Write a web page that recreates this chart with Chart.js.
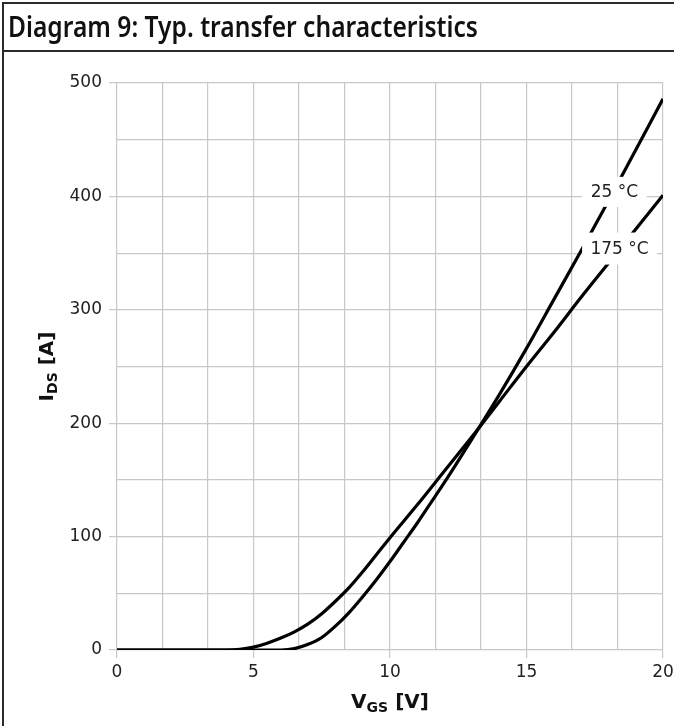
<!DOCTYPE html>
<html><head><meta charset="utf-8">
<script src="https://cdn.jsdelivr.net/npm/chart.js@4.4.1/dist/chart.umd.min.js"></script>
<style>
html,body{margin:0;padding:0;background:#fff;}
#wrap{position:relative;width:674px;height:726px;overflow:hidden;background:#fff;}
#c{position:absolute;left:0;top:0;}
#frame{position:absolute;left:2px;top:2px;width:720px;height:800px;border-left:2px solid #2b2b2b;border-top:2px solid #2b2b2b;pointer-events:none;}
#hdr{position:absolute;left:2px;top:2px;width:720px;height:48px;border-bottom:2px solid #2b2b2b;pointer-events:none;}
#title{position:absolute;left:8px;top:12px;font-family:"Noto Sans";font-weight:600;font-size:28px;line-height:28px;transform-origin:left top;white-space:nowrap;color:#111;}
</style>
</head><body>
<div id="wrap">
<canvas id="c" width="674" height="726"></canvas>
<div id="hdr"></div>
<div id="frame"></div>
<div id="title">Diagram 9: Typ. transfer characteristics</div>
</div>
<script>
// ---- data ----
const vgs25  = [0, 6, 6.5, 7, 7.5, 8, 8.5, 9, 9.5, 10, 10.5, 11, 11.5, 12, 13, 14, 15, 16, 17, 18, 19, 20];
const ids25  = [0, 0, 1.2, 5, 11, 21, 33, 47, 62, 78, 95, 112, 130, 148, 186, 225, 266, 309, 352, 396, 441, 486];
const vgs175 = [0, 4, 4.5, 5, 5.5, 6, 6.5, 7, 7.5, 8, 8.5, 9, 9.5, 10, 11, 12, 13, 14, 15, 16, 17, 18, 19, 20];
const ids175 = [0, 0, 0.5, 2.5, 6, 10.5, 16, 23, 32, 43, 55, 69, 84, 99, 128, 158, 188, 219, 250, 280, 311, 341, 371, 401];
const seriesNames = ['25 °C', '175 °C'];
const xTickLabels = ['0', '5', '10', '15', '20'];
const yTickLabels = ['0', '100', '200', '300', '400', '500'];
const xGridCount = 12;   // vertical grid divisions
const yGridCount = 10;   // horizontal grid divisions

// title width fit
const t = document.getElementById('title');
const tw = t.getBoundingClientRect().width;
t.style.transform = 'scaleX(' + (470 / tw) + ')';

const GRID = '#c8c8c8';
const TXT = '#222';
const FONT = '"DejaVu Sans"';

function toPts(xs, ys){ return xs.map((x,i)=>({x:x, y:ys[i]})); }

const xMax = Number(xTickLabels[xTickLabels.length-1]);
const yMax = Number(yTickLabels[yTickLabels.length-1]);
const isXMajor = v => xTickLabels.some(l => Math.abs(Number(l) - v) < 1e-6);
const isYMajor = v => yTickLabels.some(l => Math.abs(Number(l) - v) < 1e-6);

const labelPlugin = {
  id: 'curveLabels',
  afterDatasetsDraw(chart){
    const {ctx, scales:{x, y}} = chart;
    const items = [
      {text: seriesNames[0], vx: 18.22, vy: 404, w: 65, h: 30},
      {text: seriesNames[1], vx: 18.41, vy: 354, w: 75, h: 32}
    ];
    ctx.save();
    ctx.font = '17px ' + FONT;
    ctx.textAlign = 'center';
    ctx.textBaseline = 'middle';
    items.forEach(it => {
      const px = x.getPixelForValue(it.vx), py = y.getPixelForValue(it.vy);
      ctx.fillStyle = '#fff';
      ctx.fillRect(px - it.w/2, py - it.h/2, it.w, it.h);
      ctx.fillStyle = TXT;
      ctx.fillText(it.text, px, py + 1);
    });
    ctx.restore();
  }
};

function drawSub(ctx, parts, cx, cy){
  let total = 0;
  parts.forEach(p => { ctx.font = 'bold ' + p[1] + 'px ' + FONT; p.w = ctx.measureText(p[0]).width; total += p.w; });
  let xx = cx - total/2;
  parts.forEach(p => {
    ctx.font = 'bold ' + p[1] + 'px ' + FONT;
    ctx.fillText(p[0], xx, cy + p[2]);
    xx += p.w;
  });
}

const axisTitlePlugin = {
  id: 'axisTitles',
  afterDraw(chart){
    const {ctx, chartArea:a} = chart;
    ctx.save();
    ctx.fillStyle = '#111';
    ctx.textAlign = 'left';
    ctx.textBaseline = 'alphabetic';
    drawSub(ctx, [['V',20,0],['GS',14,4],[' [V]',20,0]], (a.left + a.right)/2, 708);
    ctx.translate(53, (a.top + a.bottom)/2);
    ctx.rotate(-Math.PI/2);
    drawSub(ctx, [['I',20,0],['DS',14,4],[' [A]',20,0]], 0, 0);
    ctx.restore();
  }
};

new Chart(document.getElementById('c'), {
  type: 'line',
  data: {
    datasets: [
      {label: seriesNames[0], data: toPts(vgs25, ids25), borderColor:'#000', borderWidth:3.2, pointRadius:0, cubicInterpolationMode:'monotone', fill:false},
      {label: seriesNames[1], data: toPts(vgs175, ids175), borderColor:'#000', borderWidth:3.2, pointRadius:0, cubicInterpolationMode:'monotone', fill:false}
    ]
  },
  options: {
    responsive: false,
    animation: false,
    events: [],
    layout: {padding: {top: 83, right: 11, left: 0, bottom: 0}},
    plugins: {legend:{display:false}, tooltip:{enabled:false}, title:{display:false}},
    scales: {
      x: {
        type: 'linear', min: 0, max: xMax,
        afterBuildTicks: s => { s.ticks = Array.from({length: xGridCount+1}, (_, i) => ({value: i * xMax / xGridCount})); },
        afterFit: s => { s.height = 76; s.paddingRight = 0; s.paddingLeft = 0; },
        grid: {color: GRID, lineWidth: 1.2, tickLength: 8, drawTicks: true,
               tickColor: c => (c.tick && isXMajor(c.tick.value)) ? GRID : 'rgba(0,0,0,0)'},
        border: {display: false},
        ticks: {autoSkip: false, maxRotation: 0, padding: 4, color: TXT, font: {family: 'DejaVu Sans', size: 17},
                callback: v => isXMajor(v) ? xTickLabels.find(l => Math.abs(Number(l)-v) < 1e-6) : ''}
      },
      y: {
        type: 'linear', min: 0, max: yMax,
        afterBuildTicks: s => { s.ticks = Array.from({length: yGridCount+1}, (_, i) => ({value: i * yMax / yGridCount})); },
        afterFit: s => { s.width = 117; s.paddingTop = 0; s.paddingBottom = 0; },
        grid: {color: GRID, lineWidth: 1.2, tickLength: 8, drawTicks: true,
               tickColor: c => (c.tick && isYMajor(c.tick.value)) ? GRID : 'rgba(0,0,0,0)'},
        border: {display: false},
        ticks: {autoSkip: false, padding: 7, color: TXT, font: {family: 'DejaVu Sans', size: 17},
                callback: v => isYMajor(v) ? yTickLabels.find(l => Math.abs(Number(l)-v) < 1e-6) : ''}
      }
    }
  },
  plugins: [labelPlugin, axisTitlePlugin]
});
</script>
</body></html>
